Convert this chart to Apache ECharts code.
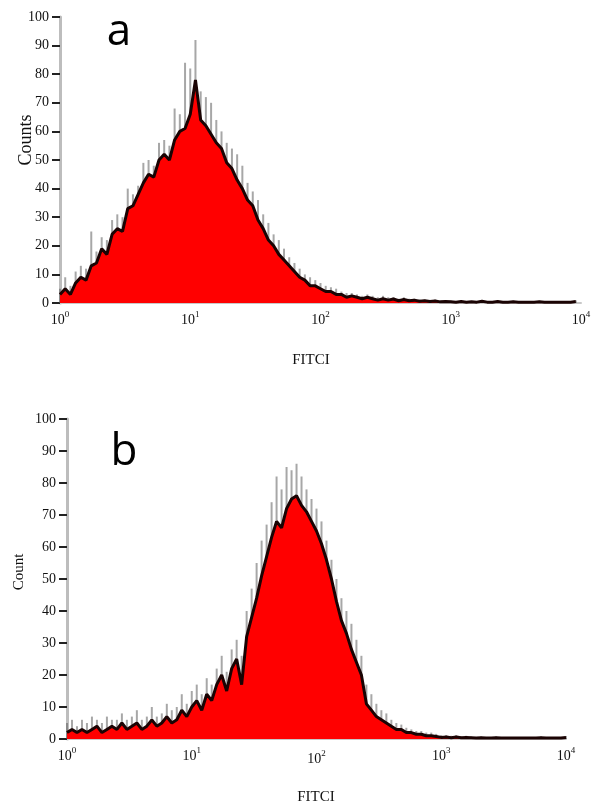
<!DOCTYPE html>
<html><head><meta charset="utf-8">
<script src="https://cdn.jsdelivr.net/npm/echarts@6/dist/echarts.min.js"></script>
<style>html,body{margin:0;padding:0;background:#fff}#c{width:600px;height:811px}</style>
</head><body><div id="c"></div>
<script>
// x positions are log10(FITC) decades; bins are 0.04 decade wide
const decadeTicks = [0, 1, 2, 3, 4];
const binStep = 0.04;
const panelLabels = ['a', 'b'];
const xTitle = 'FITCI';
const yTitleA = 'Counts';
const yTitleB = 'Count';

// Panel a: red histogram top
const countsA = [
  3, 5, 3, 7, 9, 8, 13, 14, 19, 17,
  24, 26, 25, 33, 34, 38, 42, 45, 44, 50,
  52, 50, 57, 60, 61, 66, 78, 64, 62, 59,
  56, 54, 49, 47, 43, 40, 36, 34, 29, 26,
  22, 20, 17, 15, 13, 11, 9, 8, 6, 6,
  5, 4, 4, 3, 3, 2, 2.5, 2, 1.5, 2,
  1.5, 1, 1.5, 1, 1.4, 0.8, 1.2, 0.8, 1, 0.6,
  0.8, 0.5, 0.7, 0.4, 0.5, 0.4, 0.3, 0.5, 0.3, 0.4,
  0.3, 0.6, 0.3, 0.3, 0.5, 0.3, 0.3, 0.4, 0.3, 0.3,
  0.3, 0.3, 0.4, 0.3, 0.3, 0.3, 0.3, 0.3, 0.3, 0.5
];
// Panel a: grey noisy spikes above the histogram
const fringeA = [
  5, 9, 6, 11, 13, 12, 25, 18, 23, 22,
  29, 31, 30, 40, 38, 41, 49, 50, 48, 56,
  57, 55, 68, 66, 84, 82, 92, 74, 72, 70,
  64, 60, 56, 54, 52, 48, 42, 39, 36, 31,
  28, 24, 22, 19, 16, 14, 12, 10, 9, 8,
  7, 6, 5.5, 5, 4, 3.5, 3.5, 3, 2.5, 3,
  2.5, 2, 2.5, 2, 2, 1.5, 2, 1.5, 1.5, 1.2,
  1.2, 1, 1.2, 0.8, 0.9, 0.8, 0.6, 0.9, 0.6, 0.7,
  0.6, 1, 0.6, 0.6, 0.9, 0.6, 0.6, 0.8, 0.6, 0.6,
  0.6, 0.6, 0.8, 0.6, 0.6, 0.6, 0.6, 0.6, 0.6, 0.9
];
// Panel b: red histogram top
const countsB = [
  2, 3, 2, 3, 2, 3, 4, 2, 3, 4,
  3, 5, 3, 4, 5, 3, 4, 6, 4, 5,
  7, 5, 6, 9, 7, 10, 12, 9, 14, 12,
  17, 20, 15, 22, 25, 17, 32, 38, 44, 51,
  57, 63, 68, 66, 72, 75, 76, 73, 71, 68,
  65, 61, 56, 50, 43, 37, 33, 28, 24, 20,
  11, 9, 7, 6, 5, 4, 3, 3, 2, 2,
  1.5, 1.5, 1, 1, 0.8, 0.5, 0.6, 0.4, 0.6, 0.4,
  0.5, 0.4, 0.3, 0.4, 0.3, 0.3, 0.4, 0.3, 0.3, 0.3,
  0.3, 0.3, 0.3, 0.3, 0.3, 0.4, 0.3, 0.3, 0.3, 0.3,
  0.5
];
// Panel b: grey noisy spikes
const fringeB = [
  5, 6, 4, 6, 5, 7, 6, 5, 7, 6,
  6, 8, 6, 7, 9, 6, 7, 10, 7, 8,
  11, 9, 10, 14, 11, 15, 17, 14, 19, 17,
  22, 26, 21, 28, 31, 26, 40, 47, 55, 62,
  67, 74, 82, 78, 85, 84, 86, 82, 78, 75,
  72, 68, 62, 56, 50, 44, 40, 36, 31, 26,
  17, 14, 11, 9, 8, 6, 5, 4.5, 3.5, 3,
  2.5, 2.5, 2, 2, 1.6, 1.2, 1.2, 1, 1.2, 0.8,
  1, 0.8, 0.6, 0.8, 0.6, 0.6, 0.8, 0.6, 0.6, 0.6,
  0.6, 0.6, 0.6, 0.6, 0.6, 0.8, 0.6, 0.6, 0.6, 0.6,
  0.9
];

function pairs(arr) { return arr.map((v, i) => [+(i * binStep).toFixed(2), v]); }

const serif = 'Liberation Serif';
const rich = {
  b: { fontFamily: serif, fontSize: 14, lineHeight: 16, color: '#111' },
  s: { fontFamily: serif, fontSize: 9, lineHeight: 10, color: '#111', padding: [0, 0, 10, 0] },
  b2: { fontFamily: serif, fontSize: 14, lineHeight: 16, color: '#111', padding: [6, 0, 0, 0] },
  s2: { fontFamily: serif, fontSize: 9, lineHeight: 10, color: '#111', padding: [6, 0, 10, 0] }
};

function xAxisFor(gi, shiftTwo) {
  return {
    type: 'value', gridIndex: gi, min: decadeTicks[0], max: decadeTicks[decadeTicks.length - 1], interval: 1,
    axisLine: { show: true, lineStyle: { color: '#c8c8c8', width: 2 } },
    axisTick: { show: false }, splitLine: { show: false },
    axisLabel: {
      margin: 9, showMinLabel: true, showMaxLabel: true, rich: rich,
      formatter: function (v) {
        if (shiftTwo && v === 2) return '{b2|10}{s2|' + v + '}';
        return '{b|10}{s|' + v + '}';
      }
    }
  };
}
function yAxisFor(gi) {
  return {
    type: 'value', gridIndex: gi, min: 0, max: 100, interval: 10,
    axisLine: { show: true, lineStyle: { color: '#bdbdbd', width: 3 } },
    axisTick: { show: true, length: 8, lineStyle: { color: '#222', width: 2 } },
    splitLine: { show: false },
    axisLabel: { margin: 11, fontFamily: serif, fontSize: 14, color: '#111' }
  };
}
function fringeSeries(gi, arr) {
  return {
    type: 'bar', xAxisIndex: gi, yAxisIndex: gi, data: pairs(arr), barWidth: 2, z: 1,
    itemStyle: { color: 'rgba(95,95,95,0.55)' }, silent: true
  };
}
function redSeries(gi, arr) {
  return {
    type: 'line', xAxisIndex: gi, yAxisIndex: gi, data: pairs(arr), showSymbol: false, z: 2,
    lineStyle: { color: '#1a0303', width: 3 },
    areaStyle: { color: '#ff0000', opacity: 1 }, silent: true
  };
}

const chart = echarts.init(document.getElementById('c'), null, { renderer: 'canvas' });
const centered = { fill: '#111', textAlign: 'center', textVerticalAlign: 'middle', align: 'center', verticalAlign: 'middle' };
chart.setOption({
  animation: false,
  backgroundColor: '#fff',
  grid: [
    { left: 60, right: 19, top: 17, height: 286 },
    { left: 67, right: 34, top: 419, height: 320 }
  ],
  xAxis: [xAxisFor(0, false), xAxisFor(1, true)],
  yAxis: [yAxisFor(0), yAxisFor(1)],
  series: [fringeSeries(0, fringeA), redSeries(0, countsA), fringeSeries(1, fringeB), redSeries(1, countsB)],
  graphic: [
    { type: 'text', x: 119, y: 32, style: Object.assign({ text: panelLabels[0], font: '44px "Open Sans"' }, centered, { fill: '#000' }) },
    { type: 'text', x: 124, y: 452, style: Object.assign({ text: panelLabels[1], font: '44px "Open Sans"' }, centered, { fill: '#000' }) },
    { type: 'text', x: 26, y: 140, rotation: Math.PI / 2, style: Object.assign({ text: yTitleA, font: '18px "Liberation Serif"' }, centered) },
    { type: 'text', x: 19, y: 572, rotation: Math.PI / 2, style: Object.assign({ text: yTitleB, font: '15px "Liberation Serif"' }, centered) },
    { type: 'text', x: 311, y: 360, style: Object.assign({ text: xTitle, font: '15px "Liberation Serif"' }, centered) },
    { type: 'text', x: 316, y: 797, style: Object.assign({ text: xTitle, font: '15px "Liberation Serif"' }, centered) }
  ]
});
</script>
</body></html>
